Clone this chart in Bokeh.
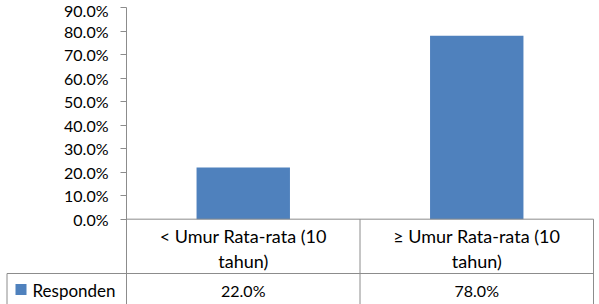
from bokeh.plotting import figure
from bokeh.models import Range1d, FixedTicker, NumeralTickFormatter
from bokeh.core.properties import value
from bokeh.embed import file_html
from bokeh.resources import INLINE

# ---- data ----
categories = ["< Umur Rata-rata (10 tahun)", "≥ Umur Rata-rata (10 tahun)"]
series_name = "Responden"
responden = [0.22, 0.78]
y_ticks = [0.0, 0.1, 0.2, 0.3, 0.4, 0.5, 0.6, 0.7, 0.8, 0.9]

# ---- style / layout ----
FONT = "Lato"
FS_TICK = "16px"
FS_CAT = "18px"
FS_VAL = "16px"
FS_SER = "17px"
GRID = "#8c8c8c"
BAR = "#4F81BD"

W, H = 599, 304
AXIS_PX, TOP_TICK_PX = 126, 7
TABLE_LEFT_PX = 6.5
CAT_PX = 233.5          # pixels per category column
PX_PER_UNIT = 235.2     # pixels per 100 %
y_top_tick = y_ticks[-1]
y_end = y_top_tick + TOP_TICK_PX / PX_PER_UNIT
y_start = y_end - H / PX_PER_UNIT
x_axis = -0.5                               # data x of the value axis
x_start = x_axis - AXIS_PX / CAT_PX          # frame starts at pixel 0
x_end = x_start + W / CAT_PX
x_table_left = x_axis - (AXIS_PX - TABLE_LEFT_PX) / CAT_PX

def ypx(py):
    return y_end - py / PX_PER_UNIT

def xpx(px):
    return x_start + px / CAT_PX

row1_y = ypx(235)
row2_y = ypx(260)
sep_y = ypx(273)
val_y = ypx(289.5)

n = len(categories)
xs = list(range(n))
line1 = [c.rsplit(" ", 1)[0] for c in categories]
line2 = [c.rsplit(" ", 1)[1] for c in categories]
val_txt = [f"{v * 100:.1f}%" for v in responden]

p = figure(width=W, height=H, x_range=Range1d(x_start, x_end),
           y_range=Range1d(y_start, y_end), output_backend="svg",
           toolbar_location=None, x_axis_location=None,
           min_border_left=0, min_border_right=0,
           min_border_top=0, min_border_bottom=0)
p.grid.visible = False
p.outline_line_color = None

yax = p.yaxis[0]
yax.fixed_location = x_axis
yax.bounds = (y_start, y_top_tick)
yax.ticker = FixedTicker(ticks=y_ticks)
yax.formatter = NumeralTickFormatter(format="0.0%")
yax.axis_line_color = GRID
yax.major_tick_line_color = GRID
yax.major_tick_out = 6
yax.major_tick_in = 0
yax.minor_tick_line_color = None
yax.major_label_text_font = FONT
yax.major_label_text_font_size = FS_TICK
yax.major_label_text_color = "black"
yax.major_label_standoff = 12

bars = p.vbar(x=xs, top=responden, bottom=0, width=0.4,
              fill_color=BAR, line_color=None)

# table lines
p.segment(x0=[x_axis, x_table_left], x1=[n - 0.5, n - 0.5], y0=[0, sep_y], y1=[0, sep_y],
          line_color=GRID, line_width=1)
bx = [i + 0.5 for i in range(n)]
p.segment(x0=bx, x1=bx, y0=[0] * n, y1=[y_start] * n, line_color=GRID, line_width=1)
p.segment(x0=[x_table_left], x1=[x_table_left], y0=[sep_y], y1=[y_start],
          line_color=GRID, line_width=1)

# table texts
tk = dict(text_align="center", text_baseline="middle", text_font=value(FONT),
          text_color="black")
p.text(x=xs, y=[row1_y] * n, text=line1, text_font_size=FS_CAT, **tk)
p.text(x=xs, y=[row2_y] * n, text=line2, text_font_size=FS_CAT, **tk)
p.text(x=xs, y=[val_y] * n, text=val_txt, text_font_size=FS_VAL, **tk)

# series key in the table's first column
p.rect(x=[xpx(20.5)], y=[ypx(289)], width=11, height=11,
       width_units="screen", height_units="screen",
       fill_color=BAR, line_color=None)
p.text(x=[xpx(32)], y=[ypx(289.5)], text=[series_name], text_align="left",
       text_baseline="middle", text_font=value(FONT), text_font_size=FS_SER,
       text_color="black")

open("out.html", "w").write(file_html(p, INLINE))
